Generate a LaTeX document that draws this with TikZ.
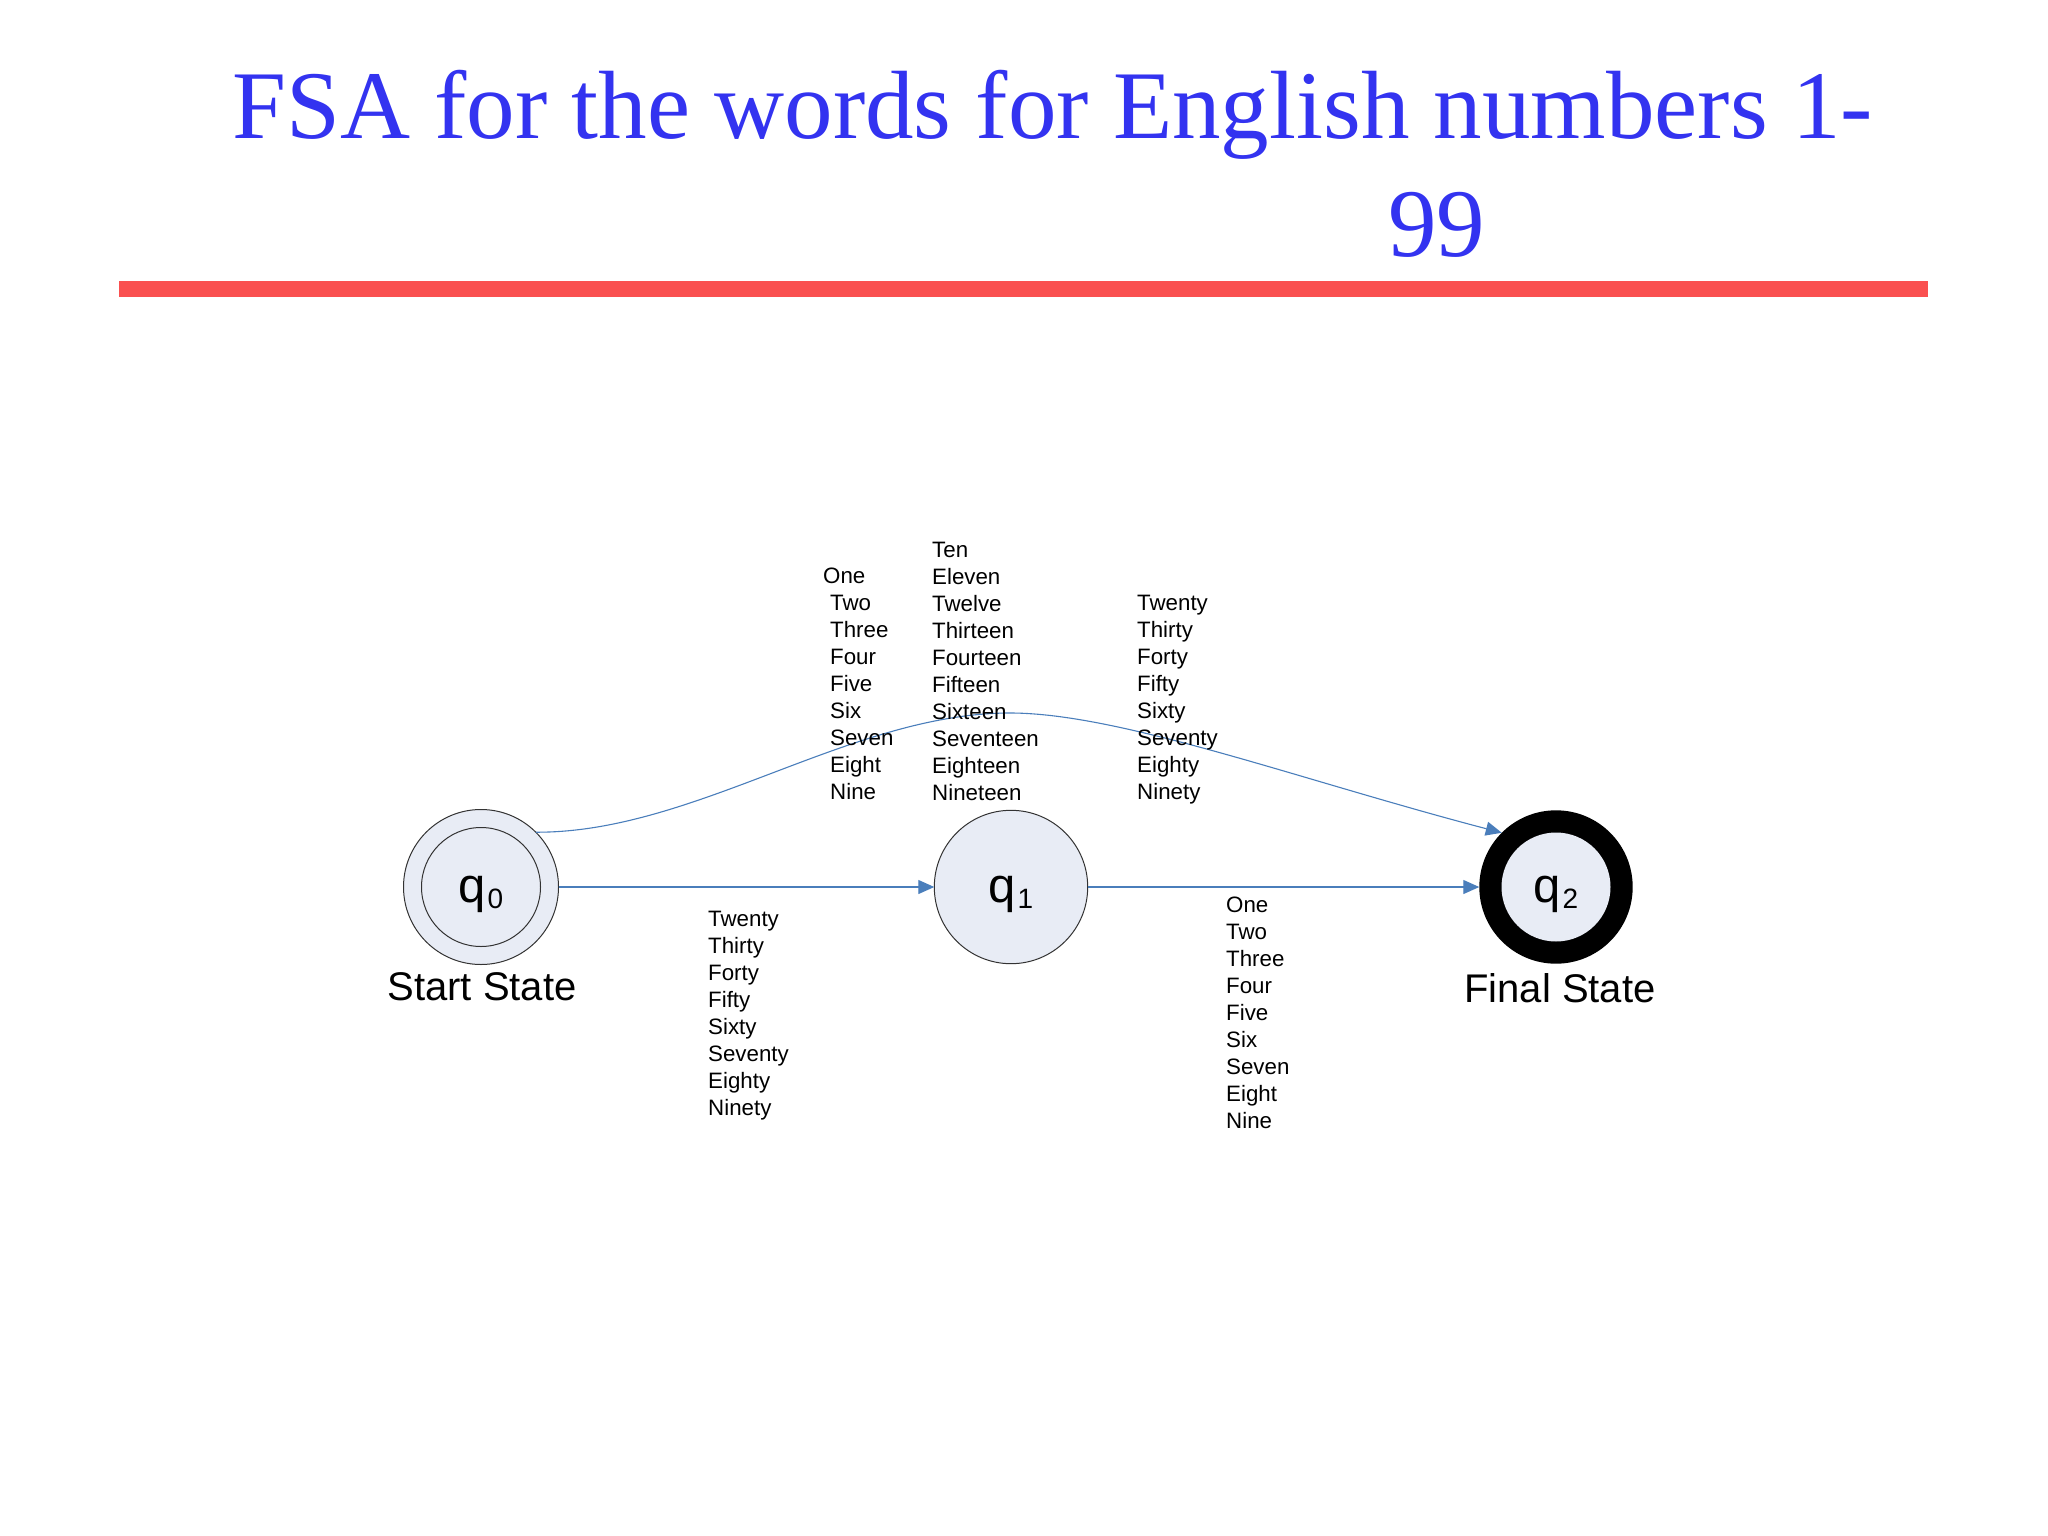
\documentclass[tikz,border=0pt]{standalone}
\usepackage{fontspec}
\setmainfont{Liberation Serif}
\newfontfamily\arialf{Liberation Sans}
\usetikzlibrary{arrows.meta}
\definecolor{titleblue}{RGB}{51,51,240}
\definecolor{rulered}{RGB}{250,80,80}
\definecolor{edgeblue}{RGB}{74,126,187}
\definecolor{statefill}{RGB}{232,236,245}
\newcommand\qlab[1]{\raisebox{-15pt}[0pt][0pt]{\arialf\fontsize{49}{49}\selectfont q\kern1.5pt\raisebox{-6.5pt}{\fontsize{28}{28}\selectfont #1}}}
\begin{document}
\begin{tikzpicture}[x=1pt,y=-1pt,
  state/.style={circle, draw=black!80, line width=1pt, fill=statefill, minimum size=#1, inner sep=0pt, outer sep=0pt},
  trans/.style={draw=edgeblue, line width=1.1pt, -{Triangle[length=16pt,width=14pt]}},
  lab/.style={anchor=base west, inner sep=0pt, font=\arialf\fontsize{22.3}{27}\selectfont},
  statecap/.style={anchor=base, inner sep=0pt, font=\arialf\fontsize{40}{44}\selectfont},
  ttl/.style={anchor=base west, inner sep=0pt, text=titleblue, font=\fontsize{97}{117}\selectfont}
]
\useasboundingbox (0,0) rectangle (2048,1536);
% title
\node[ttl] (title1) at (232,139) {FSA for the words for English numbers 1-};
\node[ttl] (title2) at (1388,256) {99};
\fill[rulered] (119,281) rectangle (1928,297);
% states
\node[state=155pt] (q0) at (481,887) {};
\node[state=119pt] (q0in) at (q0) {\qlab{0}};
\node[state=153.4pt] (q1) at (1011,887) {\qlab{1}};
\node[circle, fill=black, minimum size=153.4pt, inner sep=0pt, outer sep=0pt] (q2) at (1556,887) {};
\node[circle, fill=statefill, minimum size=109pt, inner sep=0pt, outer sep=0pt] (q2in) at (q2) {\qlab{2}};
\node[statecap] (startcap) at (482,1000) {Start State};
\node[statecap] (finalcap) at (1560,1002) {Final State};
% transitions
\coordinate (peak) at (1010,713);
\draw[trans] (q0) -- (q1);
\draw[trans] (q1) -- (q2);
\draw[trans] (q0.45) .. controls (695,833) and (850,713) .. (peak)
  .. controls (1120,713) and (1300,780) .. (q2.135);
% labels
\node[lab] (l1) at (830,583) {\begin{tabular}[t]{@{}l@{}}\hspace{-7pt}One\\Two\\Three\\Four\\Five\\Six\\Seven\\Eight\\Nine\end{tabular}};
\node[lab] (l2) at (932,557) {\begin{tabular}[t]{@{}l@{}}Ten\\Eleven\\Twelve\\Thirteen\\Fourteen\\Fifteen\\Sixteen\\Seventeen\\Eighteen\\Nineteen\end{tabular}};
\node[lab] (l3) at (1137,610) {\begin{tabular}[t]{@{}l@{}}Twenty\\Thirty\\Forty\\Fifty\\Sixty\\Seventy\\Eighty\\Ninety\end{tabular}};
\node[lab] (l4) at (708,926) {\begin{tabular}[t]{@{}l@{}}Twenty\\Thirty\\Forty\\Fifty\\Sixty\\Seventy\\Eighty\\Ninety\end{tabular}};
\node[lab] (l5) at (1226,912) {\begin{tabular}[t]{@{}l@{}}One\\Two\\Three\\Four\\Five\\Six\\Seven\\Eight\\Nine\end{tabular}};
\end{tikzpicture}
\end{document}
